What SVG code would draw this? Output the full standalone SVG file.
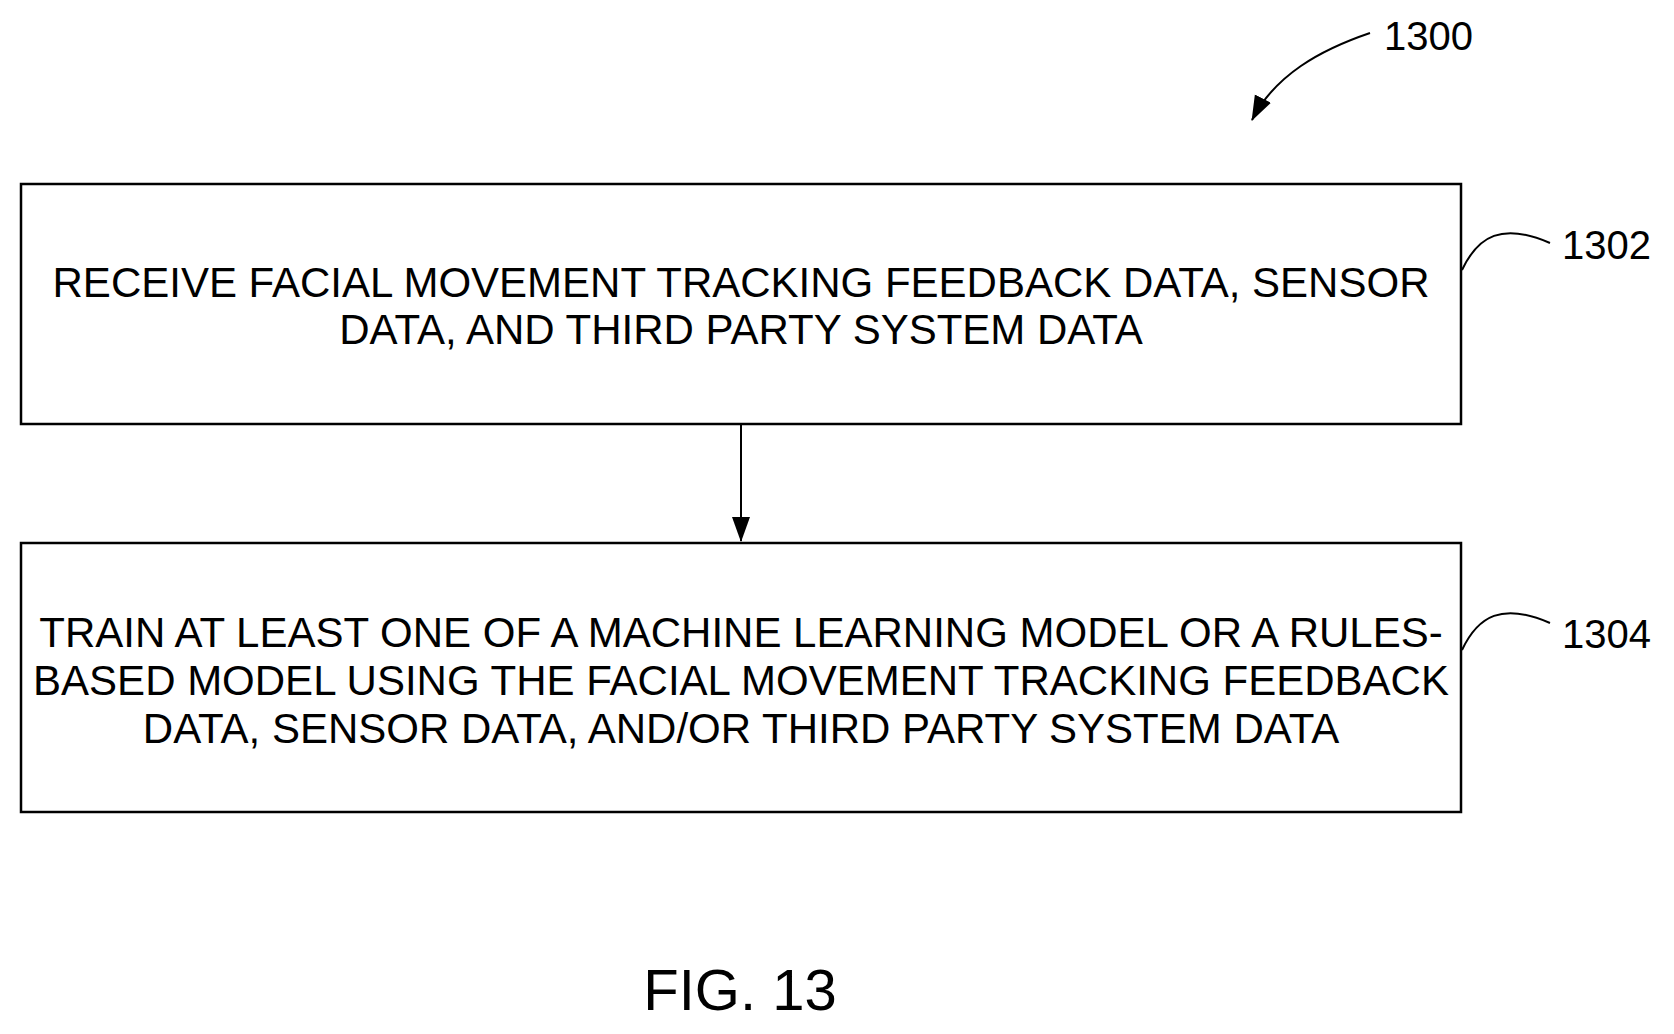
<svg xmlns="http://www.w3.org/2000/svg" width="1674" height="1034" viewBox="0 0 1674 1034">
<style>
text{font-family:"Liberation Sans",Arial,sans-serif;fill:#000}
.t{font-size:42px;text-anchor:middle}
.n{font-size:40px}
.b{fill:#fff;stroke:#000;stroke-width:2.5}
.l{fill:none;stroke:#000;stroke-width:2}
</style>
<defs><marker id="ad" markerWidth="26" markerHeight="26" refX="24" refY="13" orient="auto" markerUnits="userSpaceOnUse"><path d="M0,4 L25,13 L0,22 Z" fill="#000"/></marker></defs>
<rect width="1674" height="1034" fill="#fff"/>
<g id="n1302"><rect class="b" x="21" y="184" width="1440" height="240"/>
<text class="t" x="741" y="297">RECEIVE FACIAL MOVEMENT TRACKING FEEDBACK DATA, SENSOR</text>
<text class="t" x="741" y="344">DATA, AND THIRD PARTY SYSTEM DATA</text></g>
<g id="n1304"><rect class="b" x="21" y="543" width="1440" height="269"/>
<text class="t" x="741" y="647">TRAIN AT LEAST ONE OF A MACHINE LEARNING MODEL OR A RULES-</text>
<text class="t" x="741" y="695">BASED MODEL USING THE FACIAL MOVEMENT TRACKING FEEDBACK</text>
<text class="t" x="741" y="743">DATA, SENSOR DATA, AND/OR THIRD PARTY SYSTEM DATA</text></g>
<g id="connectors">
<line class="l" x1="741" y1="425" x2="741" y2="541" marker-end="url(#ad)"/>
<path class="l" d="M1370,33 C1320,50 1275,75 1252,120" marker-end="url(#ad)"/>
<path class="l" d="M1462,270 C1478,236 1502,222 1550,243"/>
<path class="l" d="M1462,650 C1478,616 1502,602 1550,623"/>
</g>
<g id="labels">
<text class="n" x="1384" y="50">1300</text>
<text class="n" x="1562" y="259">1302</text>
<text class="n" x="1562" y="648">1304</text>
<text x="740" y="1010" font-size="58" text-anchor="middle">FIG. 13</text>
</g>
</svg>
